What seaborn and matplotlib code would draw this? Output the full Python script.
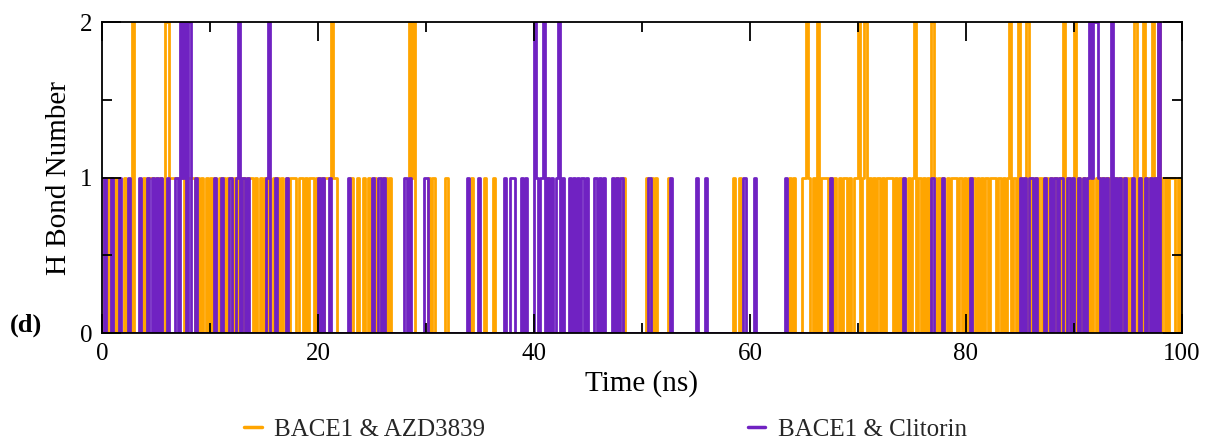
import numpy as np
import pandas as pd
import matplotlib.pyplot as plt
import seaborn as sns
from matplotlib.ticker import MultipleLocator
from matplotlib.lines import Line2D

sns.set_theme(style="white")
plt.rcParams["font.family"] = ["Liberation Serif", "DejaVu Serif"]

# H bond count per frame, one digit per 0.2 ns frame, one string per 10 ns
frame_ns = 0.2
azd3839_hbonds = [
    "10010 01000 10002 00001 01110 11102 21111 11101 11101 01010",
    "10101 01011 01010 10111 01010 10101 01010 10111 01101 01101",
    "01011 12110 00000 10010 01010 01001 01010 00000 00212 00000",
    "01010 00001 00000 00000 01000 00100 01000 00000 00000 00000",
    "00000 01000 00000 00000 00000 00000 00000 00010 01000 00000",
    "00101 01000 00100 00000 00000 00000 00000 00000 00100 10000",
    "00000 00000 00000 00010 10001 12101 02011 10101 01011 01011",
    "20120 10101 01011 10101 01010 12010 10102 10101 01011 10101",
    "01010 10101 01110 10101 20102 01020 10101 01101 01010 20101",
    "20101 01010 10101 01010 10101 01020 10201 02012 10101 11010",
]
clitorin_hbonds = [
    "01001 00010 00100 00100 01010 10100 10001 02120 20010 00000",
    "00100 10001 00120 10100 00000 01200 10000 10000 00000 00000",
    "10100 10000 00001 00000 00000 10010 10000 00000 10100 00001",
    "10000 00000 00000 00001 00001 00000 00000 01001 10001 01000",
    "21012 01010 12010 01010 10101 00010 10100 01010 10000 00000",
    "00010 00000 00010 00000 00000 10001 00000 00000 00000 00100",
    "00100 00000 00000 01000 00000 00000 00000 00100 00000 00000",
    "00000 00000 00000 00000 01000 00000 00001 00001 00000 00000",
    "00100 00000 00000 00000 00000 10101 10100 01001 01011 00101",
    "00101 01212 21010 10201 01010 00100 10010 10102 00000 00000",
]
systems = ["BACE1 & AZD3839", "BACE1 & Clitorin"]
colors = ["#FFA500", "#7022C2"]


def to_frame(chunks, name):
    rows = []
    for k, chunk in enumerate(chunks):
        for j, d in enumerate(chunk.replace(" ", "")):
            rows.append((10 * k + frame_ns * j, int(d)))
    rows.append((100.0, rows[-1][1]))
    df = pd.DataFrame(rows, columns=["time", "hbonds"])
    df["system"] = name
    return df


df = pd.concat([to_frame(azd3839_hbonds, systems[0]),
                to_frame(clitorin_hbonds, systems[1])], ignore_index=True)

fig, ax = plt.subplots(figsize=(12.11, 4.43), dpi=100)
fig.subplots_adjust(left=0.0842, right=0.976, top=0.950, bottom=0.248)

sns.lineplot(data=df, x="time", y="hbonds", hue="system", palette=colors,
             estimator=None, sort=False, drawstyle="steps-post",
             linewidth=2.0, legend=False, ax=ax)

ax.set_axisbelow(False)
ax.set_xlim(0, 100)
ax.set_ylim(0, 2)
ax.xaxis.set_major_locator(MultipleLocator(20))
ax.xaxis.set_minor_locator(MultipleLocator(10))
ax.yaxis.set_major_locator(MultipleLocator(1))
ax.yaxis.set_minor_locator(MultipleLocator(0.5))
ax.tick_params(which="both", direction="in", top=True, right=True,
               bottom=True, left=True, width=1.3, color="black")
ax.tick_params(which="major", length=14)
ax.tick_params(which="minor", length=7)
ax.tick_params(axis="both", labelsize=18, pad=7, labelcolor="black")
for s in ax.spines.values():
    s.set_color("black")
    s.set_linewidth(1.3)
    s.set_zorder(3)

ax.set_xlabel("Time (ns)", fontsize=21, color="black")
ax.set_ylabel("H Bond Number", fontsize=21, color="black")
ax.xaxis.set_label_coords(0.5, -0.12)
ax.yaxis.set_label_coords(-0.028, 0.5)

handles = [Line2D([], [], color=c, lw=2.5) for c in colors]
fig.legend(handles, systems, loc="center", bbox_to_anchor=(0.5, 0.03),
           ncol=2, frameon=False, fontsize=18, handlelength=0.7,
           handletextpad=0.5, columnspacing=10.5)

fig.text(0.008, 1 - 325 / 443, "(d)", fontsize=19, fontweight="bold",
         va="center", color="black")

fig.savefig("out.png", dpi=100)
